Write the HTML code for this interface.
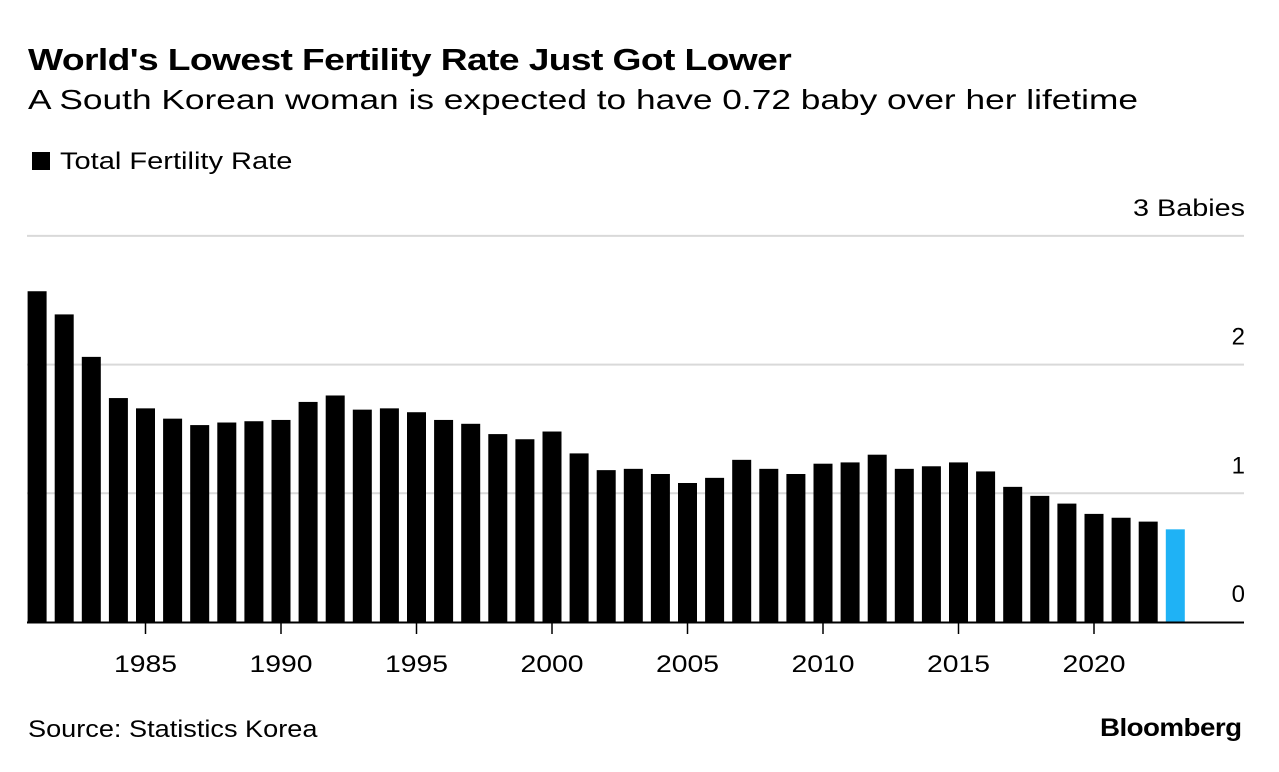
<!DOCTYPE html>
<html><head><meta charset="utf-8"><style>
body{margin:0;background:#fff;font-family:"Liberation Sans",sans-serif;}
#wrap{position:relative;width:1279px;height:772px;overflow:hidden;}
.t{position:absolute;white-space:nowrap;color:#000;transform-origin:0 0;}
</style></head><body>
<div id="wrap">
<div class="t" style="left:28px;top:42px;font-size:31px;font-weight:bold;letter-spacing:-0.5px;transform:scaleX(1.2);">World's Lowest Fertility Rate Just Got Lower</div>
<div class="t" style="left:28px;top:84px;font-size:28px;transform:scaleX(1.26);">A South Korean woman is expected to have 0.72 baby over her lifetime</div>
<div class="t" style="left:32px;top:148px;font-size:24px;"><span style="display:inline-block;width:18px;height:18px;background:#000;margin-right:10px;vertical-align:-1px;"></span><span style="display:inline-block;transform:scaleX(1.21);transform-origin:0 0;">Total Fertility Rate</span></div>
<div class="t" style="left:28px;top:716px;font-size:24px;transform:scaleX(1.13);">Source: Statistics Korea</div>
<div class="t" style="left:1100px;top:714px;font-size:25px;font-weight:bold;letter-spacing:-0.5px;transform:scaleX(1.11);">Bloomberg</div>
<svg id="chart" width="1279" height="772" style="position:absolute;left:0;top:0"></svg>
</div>
<script>
const years=[1981,1982,1983,1984,1985,1986,1987,1988,1989,1990,1991,1992,1993,1994,1995,1996,1997,1998,1999,2000,2001,2002,2003,2004,2005,2006,2007,2008,2009,2010,2011,2012,2013,2014,2015,2016,2017,2018,2019,2020,2021,2022,2023];
const rates=[2.57,2.39,2.06,1.74,1.66,1.58,1.53,1.55,1.56,1.57,1.71,1.76,1.65,1.66,1.63,1.57,1.54,1.46,1.42,1.48,1.31,1.18,1.19,1.15,1.08,1.12,1.26,1.19,1.15,1.23,1.24,1.30,1.19,1.21,1.24,1.17,1.05,0.98,0.92,0.84,0.81,0.78,0.72];
const yTicks=[0,1,2,3];
const yTickLabels=["0","1","2","3 Babies"];
const xTicks=[1985,1990,1995,2000,2005,2010,2015,2020];
const svg=document.getElementById('chart');
const NS='http://www.w3.org/2000/svg';
function x(yr){return 37.1+(yr-1981)*27.1;}
function y(v){return 622-v*128.7;}
function mk(tag,attrs){const e=document.createElementNS(NS,tag);for(const k in attrs)e.setAttribute(k,attrs[k]);svg.appendChild(e);return e;}
yTicks.forEach((v,i)=>{
  if(v>0){const g=mk('line',{x1:27,x2:1244,y1:y(v),y2:y(v),stroke:'#d9d9d9','stroke-width':2});
  
  }
  const t=mk('text',{x:1245,y:y(v)-20,'text-anchor':'end','font-size':24,'font-family':'Liberation Sans, sans-serif'});
  t.textContent=yTickLabels[i];
  if(yTickLabels[i].length>3){t.setAttribute('textLength',112);t.setAttribute('lengthAdjust','spacingAndGlyphs');}
  
  
});
years.forEach((yr,i)=>{
  const r=mk('rect',{x:x(yr)-9.5,y:y(rates[i]),width:19,height:622-y(rates[i]),fill:yr===2023?'#1fb2f5':'#000'});
  
  
});
const ax=mk('line',{x1:27,x2:1244,y1:622.5,y2:622.5,stroke:'#000','stroke-width':2});


xTicks.forEach(yr=>{
  const l=mk('line',{x1:x(yr),x2:x(yr),y1:623,y2:634,stroke:'#000','stroke-width':1.5});
  
  
  const t=mk('text',{x:x(yr),y:672,'text-anchor':'middle','font-size':24,'font-family':'Liberation Sans, sans-serif',textLength:63,lengthAdjust:'spacingAndGlyphs'});
  t.textContent=yr;
  
  
});
</script>
</body></html>
